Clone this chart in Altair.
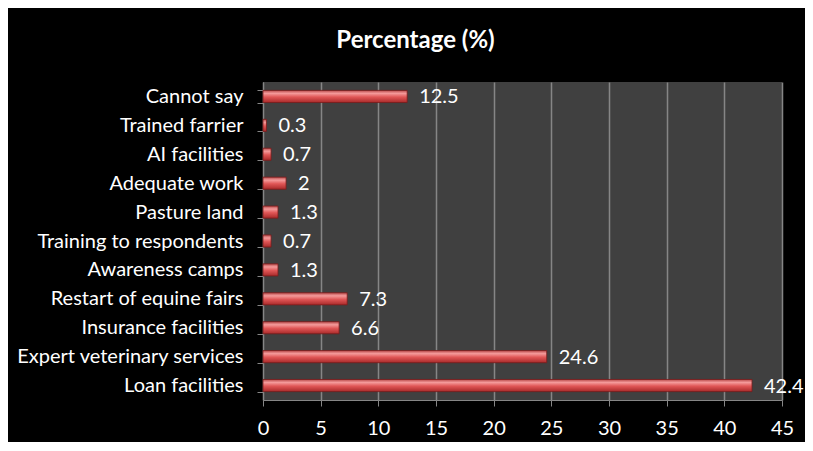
import altair as alt
import pandas as pd

categories = ["Cannot say", "Trained farrier", "AI facilities", "Adequate work",
              "Pasture land", "Training to respondents", "Awareness camps",
              "Restart of equine fairs", "Insurance facilities",
              "Expert veterinary services", "Loan facilities"]
values = [12.5, 0.3, 0.7, 2, 1.3, 0.7, 1.3, 7.3, 6.6, 24.6, 42.4]
labels = ["12.5", "0.3", "0.7", "2", "1.3", "0.7", "1.3", "7.3", "6.6", "24.6", "42.4"]

df = pd.DataFrame({"cat": categories, "val": values, "lab": labels})

FONT = "Lato"

y_enc = alt.Y("cat:N", sort=categories, title=None,
              scale=alt.Scale(paddingInner=0.58, paddingOuter=0.29),
              axis=alt.Axis(labelColor="white", labelFontSize=20, labelFont=FONT,
                            labelPadding=14, tickBand="extent", tickSize=6,
                            tickColor="#868686", domainColor="#868686",
                            labelLimit=400, grid=False))
x_enc = alt.X("val:Q", title=None,
              scale=alt.Scale(domain=[0, 45], nice=False, zero=True),
              axis=alt.Axis(values=list(range(0, 46, 5)), labelColor="white",
                            labelFontSize=20, labelFont=FONT, labelPadding=12,
                            labelFlush=False,
                            tickSize=6, tickColor="#868686", domainColor="#868686",
                            gridColor="#868686", gridWidth=1.5, grid=True))

grad = alt.Gradient(
    gradient="linear", x1=0, x2=0, y1=0, y2=1,
    stops=[alt.GradientStop(color="#b84a4a", offset=0),
           alt.GradientStop(color="#f49a9a", offset=0.25),
           alt.GradientStop(color="#e05656", offset=0.55),
           alt.GradientStop(color="#a82a2a", offset=1)])

bars = alt.Chart(df).mark_bar(color=grad, stroke="#7a1c1c", strokeWidth=0.8).encode(
    y=y_enc, x=x_enc)

text = alt.Chart(df).mark_text(align="left", baseline="middle", dx=12, dy=1,
                               color="white", fontSize=20, font=FONT).encode(
    y=alt.Y("cat:N", sort=categories), x="val:Q", text="lab:N")

chart = alt.layer(bars, text).properties(
    width=519, height=318,
    background="black",
    autosize=alt.AutoSizeParams(type="none"),
    padding={"left": 255, "top": 74, "right": 23, "bottom": 42},
    title=alt.TitleParams("Percentage (%)", color="white", fontSize=24,
                          font=FONT, fontWeight="bold", anchor="middle",
                          dx=-107, offset=19),
).configure_view(fill="#404040", stroke=None)

chart.save("out.html", embed_options={"renderer": "svg", "actions": False})
